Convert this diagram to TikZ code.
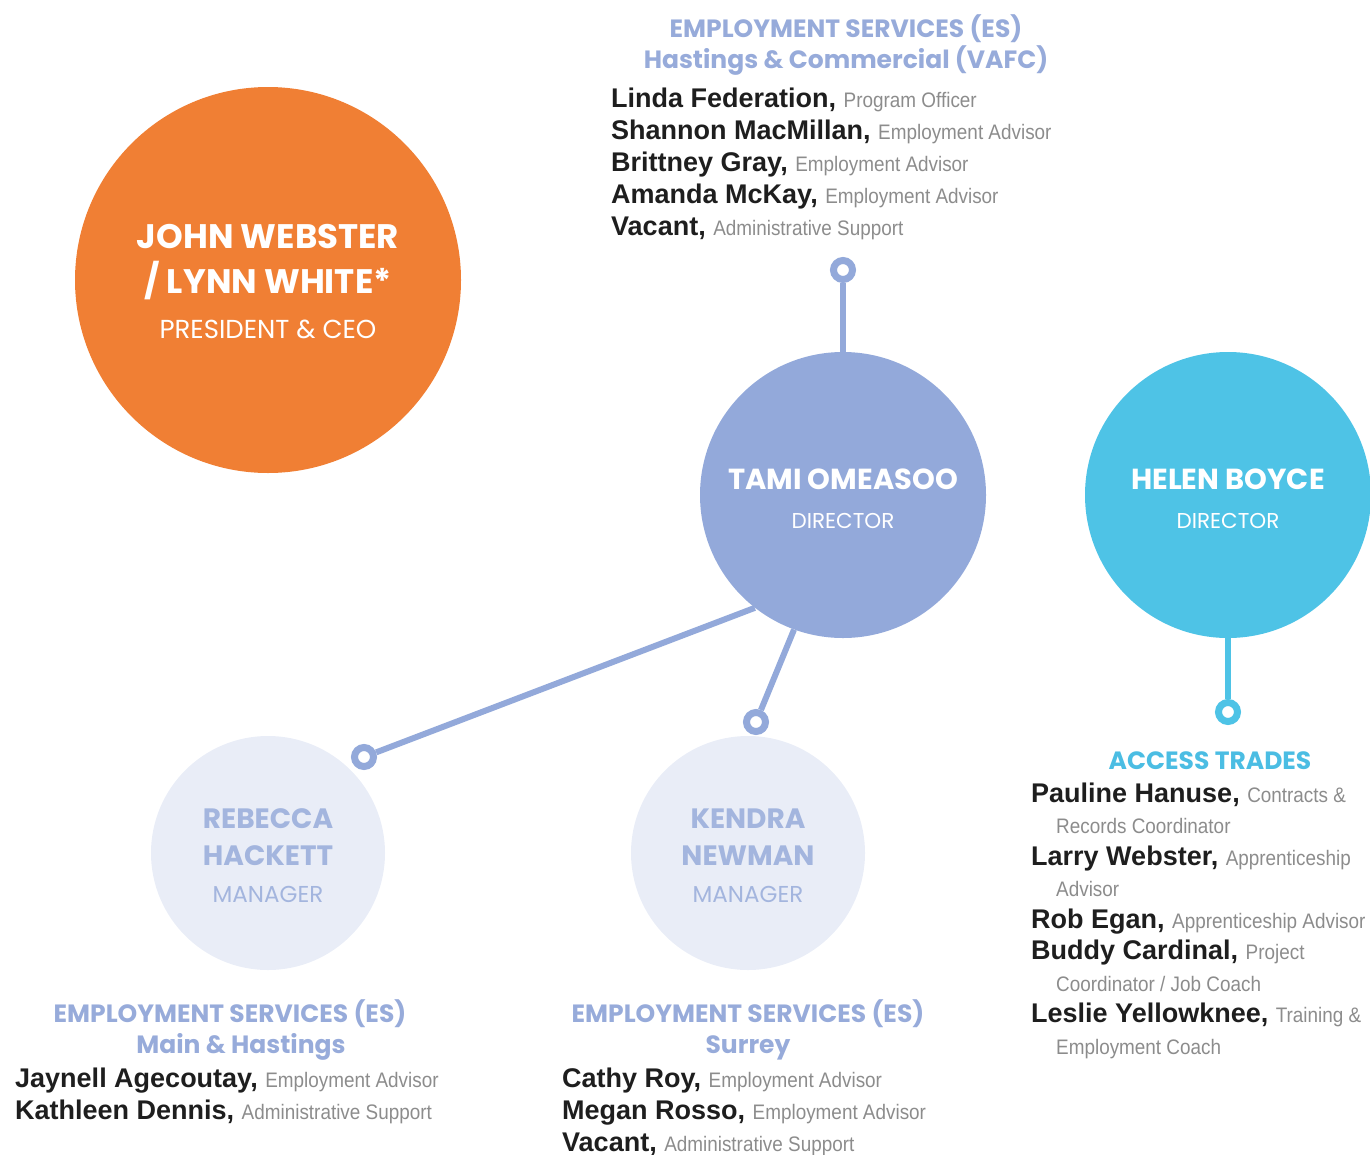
\documentclass[tikz,border=0pt]{standalone}
\usepackage{fontspec}
\setmainfont{Liberation Sans}
\newfontfamily\geofont{Poppins}
\newfontfamily\namefont{Liberation Sans}
\newfontfamily\rolefont[FakeStretch=0.9]{Liberation Sans}

\definecolor{orangeC}{HTML}{F07F34}
\definecolor{tamiC}{HTML}{93A9DA}
\definecolor{helenC}{HTML}{4EC3E6}
\definecolor{paleC}{HTML}{E9EDF7}
\definecolor{paleText}{HTML}{A3B5DE}
\definecolor{headC}{HTML}{97ABDA}
\definecolor{tradesC}{HTML}{4BBDE3}
\definecolor{nameC}{HTML}{1E1E1E}
\definecolor{roleC}{HTML}{8C8C8C}

\newcommand{\pers}[2]{{\namefont\bfseries\fontsize{27}{27}\selectfont\color{nameC}#1, }{\rolefont\fontsize{21}{21}\selectfont\color{roleC}#2}}
\newcommand{\contline}[1]{\hspace*{25pt}{\rolefont\fontsize{21}{21}\selectfont\color{roleC}#1}}

\tikzset{
	bubble/.style={circle, inner sep=0pt, minimum size=#1},
	link/.style={line width=6pt, draw=#1},
	ring/.style={circle, draw=#1, line width=7pt, fill=white, inner sep=0pt, minimum size=19pt},
	bigname/.style={anchor=base, inner sep=0pt, font=\geofont\bfseries\fontsize{#1}{#1}\selectfont},
	subtitle/.style={anchor=base, inner sep=0pt, font=\geofont\fontsize{#1}{#1}\selectfont},
	header/.style={anchor=base, inner sep=0pt, text=headC, font=\geofont\bfseries\fontsize{25}{25}\selectfont},
	entry/.style={anchor=base west, inner sep=0pt}
}

\begin{document}
\begin{tikzpicture}[x=1pt, y=-1pt]
	\useasboundingbox (0,0) rectangle (1370,1154);

	% circles
	\node[bubble=386pt, fill=orangeC] (john) at (268,280) {};
	\node[bubble=286pt, fill=tamiC] (tami) at (843,495) {};
	\node[bubble=286pt, fill=helenC] (helen) at (1228,495) {};
	\node[bubble=234pt, fill=paleC] (rebecca) at (268,853) {};
	\node[bubble=234pt, fill=paleC] (kendra) at (748,853) {};

	% texts in the circles
	\node[bigname=34, white] at ([yshift=32pt]john.center) {JOHN WEBSTER};
	\node[bigname=34, white] at ([yshift=-13pt]john.center) {/ LYNN WHITE*};
	\node[subtitle=26, white] at ([yshift=-58pt]john.center) {PRESIDENT \& CEO};
	\node[bigname=29, white] at ([yshift=6pt]tami.center) {TAMI OMEASOO};
	\node[subtitle=21.5, white] at ([yshift=-33pt]tami.center) {DIRECTOR};
	\node[bigname=29, white] at ([yshift=6pt]helen.center) {HELEN BOYCE};
	\node[subtitle=21.5, white] at ([yshift=-33pt]helen.center) {DIRECTOR};
	\node[bigname=28, paleText] at ([yshift=25pt]rebecca.center) {REBECCA};
	\node[bigname=28, paleText] at ([yshift=-12pt]rebecca.center) {HACKETT};
	\node[subtitle=23, paleText] at ([yshift=-49pt]rebecca.center) {MANAGER};
	\node[bigname=28, paleText] at ([yshift=25pt]kendra.center) {KENDRA};
	\node[bigname=28, paleText] at ([yshift=-12pt]kendra.center) {NEWMAN};
	\node[subtitle=23, paleText] at ([yshift=-49pt]kendra.center) {MANAGER};

	% connectors
	\node[ring=tamiC] (ringtop) at (843,270) {};
	\node[ring=tamiC] (ringreb) at (364,757) {};
	\node[ring=tamiC] (ringken) at (756,722) {};
	\node[ring=helenC] (ringhel) at (1228,712) {};
	\draw[link=tamiC] (tami.north) -- (ringtop);
	\draw[link=tamiC] (tami.232) -- (ringreb);
	\draw[link=tamiC] (tami.250) -- (ringken);
	\draw[link=helenC] (helen.south) -- (ringhel);

	% team above Tami
	\node[header] (hdtop) at (846,37) {EMPLOYMENT SERVICES (ES)};
	\node[header] (hdtopb) at (846,68) {Hastings \& Commercial (VAFC)};
	\foreach \line [count=\i] in {
		{\pers{Linda Federation}{Program Officer}},
		{\pers{Shannon MacMillan}{Employment Advisor}},
		{\pers{Brittney Gray}{Employment Advisor}},
		{\pers{Amanda McKay}{Employment Advisor}},
		{\pers{Vacant}{Administrative Support}}}
		\node[entry] at (611,{107+32*(\i-1)}) {\line};

	% team under Rebecca
	\node[header] (hdreb) at (230,1022) {EMPLOYMENT SERVICES (ES)};
	\node[header] (hdrebb) at (241,1053) {Main \& Hastings};
	\foreach \line [count=\i] in {
		{\pers{Jaynell Agecoutay}{Employment Advisor}},
		{\pers{Kathleen Dennis}{Administrative Support}}}
		\node[entry] at (15,{1087+32*(\i-1)}) {\line};

	% team under Kendra
	\node[header] (hdken) at (748,1022) {EMPLOYMENT SERVICES (ES)};
	\node[header] (hdkenb) at (748,1053) {Surrey};
	\foreach \line [count=\i] in {
		{\pers{Cathy Roy}{Employment Advisor}},
		{\pers{Megan Rosso}{Employment Advisor}},
		{\pers{Vacant}{Administrative Support}}}
		\node[entry] at (562,{1087+32*(\i-1)}) {\line};

	% team under Helen
	\node[header, text=tradesC] (hdhel) at (1210,769) {ACCESS TRADES};
	\foreach \line [count=\i] in {
		{\pers{Pauline Hanuse}{Contracts \&}},
		{\contline{Records Coordinator}},
		{\pers{Larry Webster}{Apprenticeship}},
		{\contline{Advisor}},
		{\pers{Rob Egan}{Apprenticeship Advisor}},
		{\pers{Buddy Cardinal}{Project}},
		{\contline{Coordinator / Job Coach}},
		{\pers{Leslie Yellowknee}{Training \&}},
		{\contline{Employment Coach}}}
		\node[entry] at (1031,{802+31.5*(\i-1)}) {\line};
\end{tikzpicture}
\end{document}
